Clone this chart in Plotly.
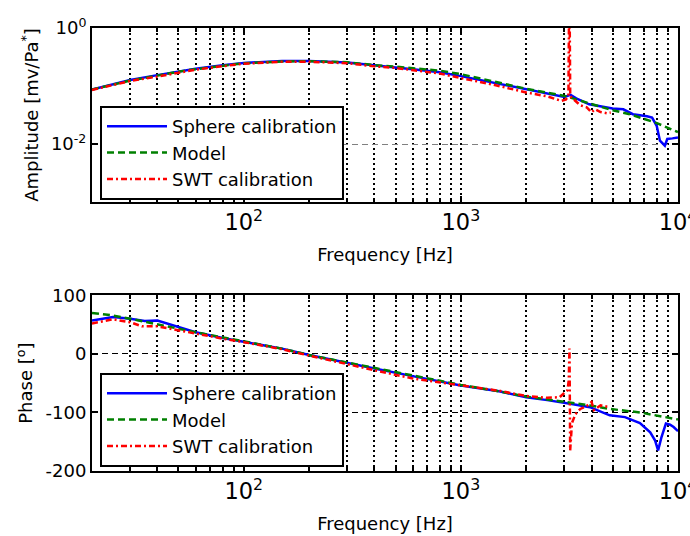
import plotly.graph_objects as go

# ---------------- data ----------------
# Amplitude [mV/Pa]
amp_sphere_f = [20, 30, 40, 50, 60, 80, 100, 150, 200, 300, 400, 500, 600, 800, 1000, 1400, 2000, 2500,
                3000, 3200, 3400, 3900, 4300, 4600, 5000, 5600, 6200, 7200, 7600, 7980, 8100, 8260, 8700,
                8930, 9430, 10000]
amp_sphere_v = [0.0871, 0.127, 0.154, 0.177, 0.199, 0.229, 0.249, 0.270, 0.270, 0.254, 0.224, 0.209, 0.195,
                0.173, 0.148, 0.115, 0.0871, 0.0759, 0.0649, 0.0702, 0.0611, 0.0483, 0.0452, 0.0429, 0.0408,
                0.0397, 0.0326, 0.0301, 0.0286, 0.0206, 0.0148, 0.0114, 0.00935, 0.0122, 0.0125, 0.0130]

amp_model_f = [20, 30, 40, 50, 60, 80, 100, 150, 200, 300, 400, 500, 600, 800, 1000, 1400, 2000, 3000,
               4000, 5000, 6000, 7000, 8000, 10000]
amp_model_v = [0.0871, 0.124, 0.151, 0.177, 0.195, 0.224, 0.247, 0.265, 0.268, 0.257, 0.229, 0.216, 0.205,
               0.184, 0.160, 0.122, 0.0896, 0.0675, 0.0483, 0.0381, 0.0326, 0.0267, 0.0229, 0.0160]

amp_swt_f = [20, 30, 40, 50, 60, 80, 100, 150, 200, 300, 400, 500, 600, 800, 1000, 1400, 2000, 2500, 2900,
             3050, 3130, 3160, 3190, 3300, 3550, 3800, 4000, 4150, 4400, 4700, 4900]
amp_swt_v = [0.0855, 0.122, 0.145, 0.170, 0.191, 0.220, 0.242, 0.262, 0.262, 0.247, 0.218, 0.205, 0.186,
             0.164, 0.137, 0.106, 0.0774, 0.0662, 0.0554, 0.0588, 0.0689, 10.0, 0.0662, 0.0588, 0.0464,
             0.0429, 0.0352, 0.0397, 0.0356, 0.0339, 0.0348]

# Phase [deg]
ph_sphere_f = [20, 25, 30, 35, 40, 45, 50, 60, 80, 100, 150, 200, 300, 400, 600, 1000, 1500, 2000, 2500,
               3000, 3240, 3930, 4400, 4850, 5700, 6680, 7450, 7850, 8100, 8400, 8800, 9200, 9550, 10000]
ph_sphere_v = [57, 63, 60, 56, 57, 51, 45, 37, 27, 21, 9, -2, -16, -25, -38, -54, -64, -74, -79,
               -83, -85.5, -91, -99, -105, -108, -118, -134, -148, -165, -142, -119, -121, -125, -132]

ph_model_f = [20, 25, 30, 40, 50, 60, 80, 100, 150, 200, 300, 400, 600, 1000, 1500, 2000, 3000, 3930,
              4850, 6680, 10000]
ph_model_v = [70, 65.5, 60, 51, 43, 37, 28, 21, 9, -2, -15, -23.5, -36, -53, -64, -73, -82, -88,
              -94, -100, -112]

ph_swt_f = [20, 25, 30, 34, 40, 50, 60, 80, 100, 150, 200, 300, 400, 600, 1000, 1500, 2000, 2500, 2850,
            3100, 3140, 3165, 3188, 3250, 3370, 3550, 3800, 4000, 4100, 4400, 4850]
ph_swt_v = [52, 59, 54, 47, 47, 40, 35, 26, 20, 8, -3, -18, -28, -42, -54, -63, -72, -75, -74,
            -62, -45, 9, -165, -118, -103, -94, -89, -82, -96, -88, -91]

series_names = ["Sphere calibration", "Model", "SWT calibration"]
amp_ticks = [1, 0.01]
amp_ticktext = ["10<sup>0</sup>", "10<sup>-2</sup>"]
ph_ticks = [100, 0, -100, -200]
ph_ticktext = ["100", "0", "-100", "-200"]

# ---------------- styling ----------------
FONT = "DejaVu Sans, Liberation Sans, Arial, sans-serif"
FS = 18
LFS = 18
colors = ["#0000ff", "#008000", "#ff0000"]
dashes = ["solid", "7px,4px", "6px,3px,2px,3px"]
LW = 2.5

fig = go.Figure()

amp_data = [(amp_sphere_f, amp_sphere_v), (amp_model_f, amp_model_v), (amp_swt_f, amp_swt_v)]
ph_data = [(ph_sphere_f, ph_sphere_v), (ph_model_f, ph_model_v), (ph_swt_f, ph_swt_v)]

for i, (f, v) in enumerate(amp_data):
    fig.add_trace(go.Scatter(x=f, y=v, mode="lines", name=series_names[i],
                             line=dict(color=colors[i], width=LW, dash=dashes[i]),
                             xaxis="x", yaxis="y", legend="legend"))
for i, (f, v) in enumerate(ph_data):
    fig.add_trace(go.Scatter(x=f, y=v, mode="lines", name=series_names[i],
                             line=dict(color=colors[i], width=LW, dash=dashes[i]),
                             xaxis="x2", yaxis="y2", legend="legend2"))

xdom = [92 / 690, 678 / 690]
ydom_top = [1 - 202 / 536, 1 - 28 / 536]
ydom_bot = [1 - 471 / 536, 1 - 295.3 / 536]

def xaxis_cfg(anchor):
    return dict(
        type="log", range=[1.30103, 4.0002], domain=xdom, anchor=anchor,
        dtick=1, exponentformat="power", ticklabeloverflow="allow",
        showline=True, linecolor="black", linewidth=2, mirror="ticks",
        ticks="inside", ticklen=6, tickwidth=1.5, tickcolor="black",
        showgrid=True, gridcolor="black", gridwidth=2, griddash="2px,3px",
        minor=dict(ticks="inside", ticklen=4, tickwidth=1.5, tickcolor="black", dtick="D1",
                   showgrid=True, gridcolor="black", gridwidth=2, griddash="2px,3px"),
        tickfont=dict(family=FONT, size=FS, color="black"),
        title=dict(text="Frequency [Hz]", font=dict(family=FONT, size=FS, color="black"), standoff=14),
        zeroline=False, automargin=False,
    )

fig.update_layout(
    width=690, height=536,
    margin=dict(l=0, r=0, t=0, b=0),
    paper_bgcolor="white", plot_bgcolor="white",
    font=dict(family=FONT, size=FS, color="black"),
    xaxis=xaxis_cfg("y"),
    xaxis2=xaxis_cfg("y2"),
    yaxis=dict(
        type="log", range=[-3, 0], domain=ydom_top, anchor="x",
        tickvals=amp_ticks, ticktext=amp_ticktext, ticklabeloverflow="allow",
        showline=True, linecolor="black", linewidth=2, mirror="ticks",
        ticks="inside", ticklen=6, tickwidth=1.5, tickcolor="black",
        showgrid=True, gridcolor="#808080", gridwidth=1, griddash="6px,4px",
        tickfont=dict(family=FONT, size=FS, color="black"),
        title=dict(text="Amplitude [mv/Pa<sup>*</sup>]", font=dict(family=FONT, size=FS, color="black"), standoff=8),
        zeroline=False, automargin=False,
    ),
    yaxis2=dict(
        range=[-200, 100], domain=ydom_bot, anchor="x2",
        tickvals=ph_ticks, ticktext=ph_ticktext, ticklabeloverflow="allow",
        showline=True, linecolor="black", linewidth=2, mirror="ticks",
        ticks="inside", ticklen=6, tickwidth=1.5, tickcolor="black",
        showgrid=True, gridcolor="black", gridwidth=1, griddash="6px,4px",
        tickfont=dict(family=FONT, size=FS, color="black"),
        title=dict(text="Phase [<sup>o</sup>]", font=dict(family=FONT, size=FS, color="black"), standoff=8),
        zeroline=False, automargin=False,
    ),
    legend=dict(x=100 / 690, y=1 - 106 / 536, xanchor="left", yanchor="top",
                bgcolor="white", bordercolor="black", borderwidth=2,
                font=dict(family=FONT, size=LFS, color="black"), itemwidth=60, tracegroupgap=0),
    legend2=dict(x=100 / 690, y=1 - 373 / 536, xanchor="left", yanchor="top",
                 bgcolor="white", bordercolor="black", borderwidth=2,
                 font=dict(family=FONT, size=LFS, color="black"), itemwidth=60, tracegroupgap=0),
)

fig.write_html("out.html")
